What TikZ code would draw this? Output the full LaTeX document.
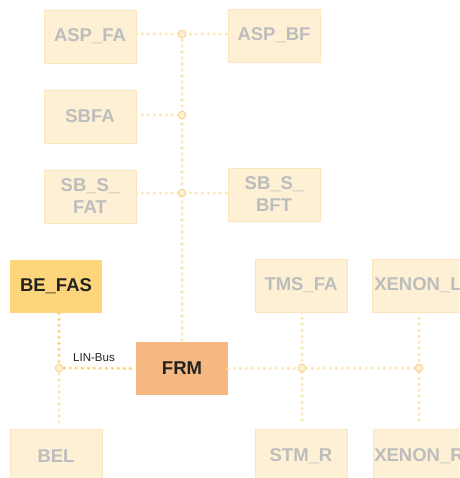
\documentclass[tikz,border=0pt]{standalone}
\usepackage{fontspec}
\setmainfont{Liberation Sans}
\usepackage{tikz}
\usetikzlibrary{positioning, calc}

\definecolor{boxfill}{HTML}{FDF0D4}
\definecolor{boxedge}{HTML}{FBE6BC}
\definecolor{fadedtext}{HTML}{BDBDBD}
\definecolor{dotfaded}{HTML}{FCE7BC}
\definecolor{dotactive}{HTML}{FBD480}
\definecolor{befasfill}{HTML}{FDD67B}
\definecolor{frmfill}{HTML}{F5B881}
\definecolor{darktext}{HTML}{222222}
\definecolor{junctionedge}{HTML}{F9D593}

\begin{document}
\begin{tikzpicture}[x=1pt, y=-1pt,
            ecubox/.style={
                rectangle, draw=boxedge, fill=boxfill, line width=0.6pt,
                minimum width=92pt, minimum height=53pt, inner sep=0pt,
                align=center, text=fadedtext,
                font=\fontsize{18.5}{22}\selectfont\bfseries
            },
            activebox/.style={ecubox, draw=none, text=darktext},
            fadedline/.style={
                draw=dotfaded, line width=3.6pt, line cap=round,
                dash pattern=on 0pt off 6pt
            },
            busline/.style={fadedline, draw=dotactive},
            junction/.style={
                circle, draw=junctionedge, fill=boxfill, line width=1pt,
                minimum size=7.5pt, inner sep=0pt
            }
        ]
            \clip (0,0) rectangle (459,478);
            % --- ECUs
            \node[ecubox] (aspfa) at (90,36.5) {ASP\_FA};
            \node[ecubox] (aspbf) at (274,35.5) {ASP\_BF};
            \node[ecubox] (sbfa) at (90,116.5) {SBFA};
            \node[ecubox] (sbsfat) at (90,196.5) {SB\_S\_\\FAT};
            \node[ecubox] (sbsbft) at (274,194.5) {SB\_S\_\\BFT};
            \node[activebox, fill=befasfill] (befas) at (56,286.5) {BE\_FAS};
            \node[activebox, fill=frmfill] (frm) at (182,368.5) {FRM};
            \node[ecubox] (bel) at (56,456) {BEL};
            \node[ecubox] (tmsfa) at (301,285.5) {TMS\_FA};
            \node[ecubox] (xenonl) at (418,285.5) {XENON\_L};
            \node[ecubox] (stmr) at (301,456) {STM\_R};
            \node[ecubox] (xenonr) at (419,456) {XENON\_R};
            % --- bus junctions
            \coordinate (jasp) at (182,34);
            \coordinate (jsbfa) at (182,115);
            \coordinate (jsbs) at (182,193);
            \coordinate (jlin) at (59,368);
            \coordinate (jtms) at (302,368);
            \coordinate (jxen) at (419,368);
            % --- connectors
            \draw[fadedline] (aspfa.east |- jasp) -- (jasp) -- (aspbf.west |- jasp);
            \draw[fadedline] (sbfa.east |- jsbfa) -- (jsbfa);
            \draw[fadedline] (sbsfat.east |- jsbs) -- (jsbs) -- (sbsbft.west |- jsbs);
            \draw[fadedline] (jasp) -- (frm.north);
            \draw[busline] (befas.south -| jlin) -- (jlin) -- (frm.west);
            \draw[fadedline] (jlin) -- ($(bel.north -| jlin)+(0,-6)$);
            \draw[fadedline] (frm.east) -- (jxen);
            \draw[fadedline] (tmsfa.south -| jtms) -- (jtms) -- ($(stmr.north -| jtms)+(0,-6)$);
            \draw[fadedline] (xenonl.south -| jxen) -- (jxen) -- ($(xenonr.north -| jxen)+(0,-6)$);
            \foreach \j in {jasp, jsbfa, jsbs, jlin, jtms, jxen}
                \node[junction] at (\j) {};
            \node[font=\fontsize{11.5}{13}\selectfont, text=darktext] (linbus) at (94,358) {LIN-Bus};
        \end{tikzpicture}
\end{document}
